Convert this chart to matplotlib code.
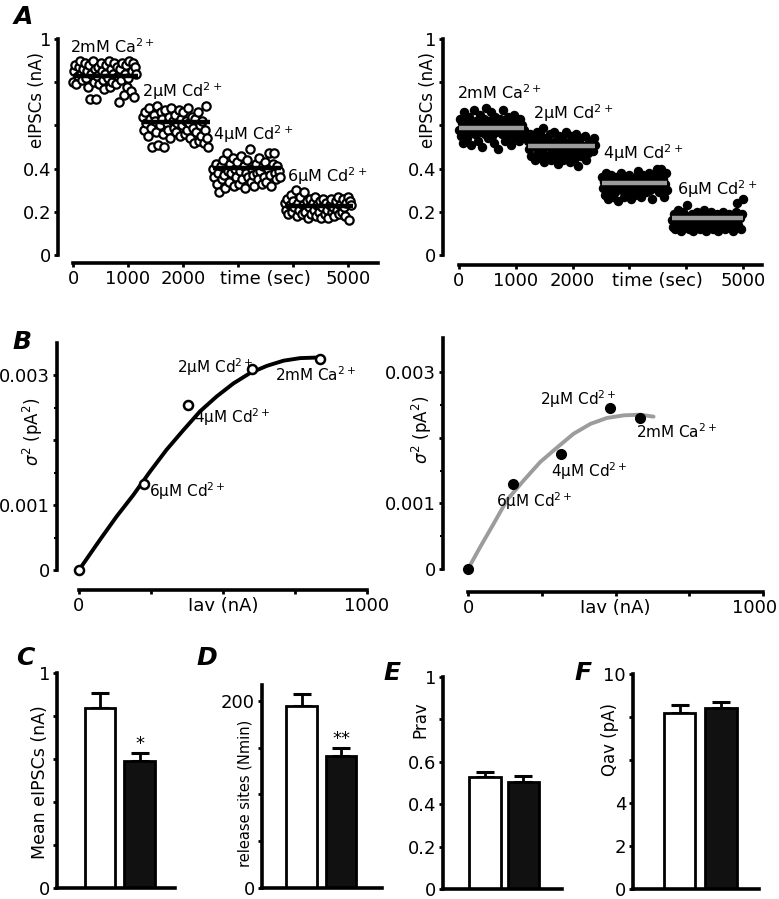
import numpy as np
import matplotlib
matplotlib.use("Agg")
import matplotlib.pyplot as plt
from matplotlib.transforms import ScaledTranslation

W, H = 779, 899

# ---------------- data ----------------
conds = ["2mM Ca$^{2+}$", "2μM Cd$^{2+}$", "4μM Cd$^{2+}$", "6μM Cd$^{2+}$"]

# A, left cell (open circles): time span of each condition (sec) and eIPSC amplitudes (nA)
aL_span = [(0, 1150), (1270, 2460), (2550, 3760), (3850, 5060)]
aL_mean = [0.83, 0.615, 0.405, 0.225]
aL_pts = [
    [0.80, 0.85, 0.88, 0.79, 0.83, 0.87, 0.90, 0.84, 0.81, 0.86, 0.89, 0.82, 0.85, 0.78,
     0.88, 0.72, 0.84, 0.90, 0.80, 0.86, 0.72, 0.83, 0.87, 0.79, 0.89, 0.85, 0.81, 0.77,
     0.84, 0.88, 0.82, 0.90, 0.78, 0.86, 0.80, 0.84, 0.89, 0.79, 0.87, 0.83, 0.71, 0.86,
     0.81, 0.89, 0.74, 0.84, 0.88, 0.78, 0.82, 0.90, 0.76, 0.85, 0.89, 0.73, 0.87, 0.84],
    [0.64, 0.58, 0.66, 0.61, 0.55, 0.68, 0.63, 0.59, 0.50, 0.65, 0.62, 0.57, 0.69, 0.51,
     0.60, 0.66, 0.63, 0.56, 0.50, 0.67, 0.61, 0.58, 0.64, 0.54, 0.68, 0.62, 0.59, 0.65,
     0.57, 0.61, 0.67, 0.55, 0.63, 0.60, 0.66, 0.56, 0.62, 0.58, 0.68, 0.61, 0.54, 0.64,
     0.59, 0.52, 0.63, 0.57, 0.66, 0.53, 0.60, 0.55, 0.62, 0.52, 0.58, 0.69, 0.54, 0.50],
    [0.40, 0.36, 0.42, 0.33, 0.38, 0.29, 0.41, 0.35, 0.44, 0.37, 0.31, 0.47, 0.39, 0.34,
     0.42, 0.38, 0.45, 0.32, 0.40, 0.36, 0.43, 0.33, 0.39, 0.46, 0.35, 0.41, 0.31, 0.38,
     0.44, 0.36, 0.49, 0.34, 0.40, 0.37, 0.32, 0.42, 0.38, 0.35, 0.45, 0.39, 0.33, 0.41,
     0.36, 0.43, 0.34, 0.40, 0.47, 0.37, 0.32, 0.42, 0.47, 0.38, 0.35, 0.41, 0.39, 0.36],
    [0.24, 0.21, 0.26, 0.19, 0.23, 0.28, 0.20, 0.25, 0.22, 0.30, 0.18, 0.24, 0.21, 0.27,
     0.19, 0.23, 0.29, 0.20, 0.25, 0.17, 0.22, 0.26, 0.19, 0.24, 0.21, 0.27, 0.18, 0.23,
     0.20, 0.25, 0.17, 0.22, 0.26, 0.19, 0.24, 0.21, 0.17, 0.23, 0.26, 0.20, 0.22, 0.18,
     0.25, 0.21, 0.27, 0.19, 0.23, 0.20, 0.26, 0.22, 0.18, 0.24, 0.27, 0.16, 0.25, 0.23],
]
aL_label_pos = [(-55, 0.935), (1255, 0.733), (2545, 0.532), (3890, 0.339)]

# A, right cell (filled circles)
aR_span = [(0, 1150), (1220, 2400), (2510, 3660), (3750, 5000)]
aR_mean = [0.588, 0.506, 0.335, 0.17]
aR_pts = [
    [0.58, 0.63, 0.55, 0.61, 0.52, 0.66, 0.59, 0.62, 0.54, 0.57, 0.64, 0.60, 0.51, 0.58,
     0.67, 0.56, 0.62, 0.59, 0.53, 0.61, 0.65, 0.57, 0.50, 0.60, 0.63, 0.56, 0.68, 0.59,
     0.54, 0.62, 0.58, 0.66, 0.55, 0.60, 0.52, 0.64, 0.57, 0.61, 0.49, 0.59, 0.63, 0.56,
     0.67, 0.58, 0.53, 0.61, 0.57, 0.64, 0.55, 0.60, 0.51, 0.62, 0.58, 0.65, 0.54, 0.59,
     0.56, 0.61, 0.53, 0.63, 0.57, 0.60, 0.55, 0.58],
    [0.53, 0.49, 0.56, 0.46, 0.51, 0.54, 0.44, 0.50, 0.57, 0.47, 0.52, 0.45, 0.55, 0.48,
     0.59, 0.43, 0.51, 0.54, 0.46, 0.50, 0.56, 0.44, 0.52, 0.48, 0.57, 0.45, 0.53, 0.49,
     0.42, 0.55, 0.47, 0.51, 0.54, 0.44, 0.50, 0.57, 0.46, 0.52, 0.48, 0.43, 0.55, 0.50,
     0.47, 0.53, 0.45, 0.56, 0.49, 0.41, 0.52, 0.54, 0.46, 0.50, 0.48, 0.55, 0.44, 0.51,
     0.47, 0.53, 0.49, 0.52, 0.50, 0.48, 0.54, 0.51],
    [0.36, 0.31, 0.34, 0.28, 0.38, 0.33, 0.26, 0.35, 0.30, 0.37, 0.32, 0.27, 0.34, 0.29,
     0.36, 0.33, 0.25, 0.35, 0.31, 0.38, 0.30, 0.34, 0.27, 0.36, 0.32, 0.29, 0.37, 0.33,
     0.26, 0.35, 0.31, 0.34, 0.28, 0.36, 0.32, 0.39, 0.30, 0.35, 0.27, 0.33, 0.37, 0.31,
     0.34, 0.29, 0.36, 0.32, 0.38, 0.30, 0.35, 0.26, 0.33, 0.37, 0.31, 0.40, 0.34, 0.29,
     0.36, 0.40, 0.32, 0.35, 0.27, 0.33, 0.38, 0.30],
    [0.16, 0.13, 0.19, 0.12, 0.17, 0.21, 0.14, 0.18, 0.11, 0.16, 0.20, 0.13, 0.17, 0.23,
     0.15, 0.12, 0.18, 0.14, 0.19, 0.11, 0.16, 0.13, 0.20, 0.15, 0.17, 0.12, 0.18, 0.14,
     0.21, 0.16, 0.11, 0.19, 0.13, 0.17, 0.15, 0.20, 0.12, 0.16, 0.18, 0.14, 0.19, 0.11,
     0.17, 0.13, 0.16, 0.20, 0.15, 0.12, 0.18, 0.14, 0.17, 0.19, 0.13, 0.16, 0.11, 0.18,
     0.15, 0.20, 0.24, 0.14, 0.17, 0.12, 0.19, 0.26],
]
aR_label_pos = [(-35, 0.72), (1297, 0.63), (2540, 0.443), (3843, 0.278)]

# B: variance-mean points (Iav nA, sigma^2 pA^2), order = conds, plus origin
bL_iav = [0, 837, 600, 377, 226]
bL_var = [0, 0.00324, 0.00309, 0.00254, 0.00133]
bL_fit_x = [0, 72, 130, 188, 246, 304, 362, 420, 478, 536, 594, 652, 710, 768, 838]
bL_fit_y = [0, 0.00046, 0.00082, 0.00115, 0.00151, 0.00185, 0.00215, 0.00244, 0.00267,
            0.00287, 0.00303, 0.00314, 0.00322, 0.00326, 0.00327]
bL_label_pos = [(681, 0.00291), (339, 0.003035), (399, 0.002266), (243, 0.00112)]

bR_iav = [0, 583, 481, 315, 154]
bR_var = [0, 0.00230, 0.00245, 0.00175, 0.00129]
bR_fit_x = [0, 42, 87, 132, 189, 245, 302, 358, 415, 471, 528, 584, 629]
bR_fit_y = [0, 0.00034, 0.00069, 0.00105, 0.00135, 0.00163, 0.00185, 0.00206, 0.00221,
            0.0023, 0.00234, 0.00235, 0.00232]
bR_label_pos = [(569, 0.0020), (244, 0.0025), (280, 0.0014), (95, 0.00095)]

# C-F: control (white) vs Cd (black), mean and SEM
c_vals, c_err = [0.837, 0.59], [0.071, 0.039]
d_vals, d_err = [194, 141], [13, 9]
e_vals, e_err = [0.528, 0.507], [0.025, 0.028]
f_vals, f_err = [8.2, 8.4], [0.35, 0.3]

# ---------------- figure ----------------
plt.rcParams["font.family"] = ["DejaVu Sans"]
plt.rcParams["mathtext.fontset"] = "dejavusans"
fig = plt.figure(figsize=(W / 100, H / 100), dpi=100)
GRAY = "#9c9c9c"


def add_panel(xa, xb, xlim, ya, yb, ylim):
    # xa/xb and ya/yb are (value, pixel) pairs
    sx = (xb[1] - xa[1]) / (xb[0] - xa[0])
    sy = (yb[1] - ya[1]) / (yb[0] - ya[0])
    left = xa[1] + (xlim[0] - xa[0]) * sx
    right = xa[1] + (xlim[1] - xa[0]) * sx
    bottom = ya[1] + (ylim[0] - ya[0]) * sy
    top = ya[1] + (ylim[1] - ya[0]) * sy
    ax = fig.add_axes([left / W, 1 - bottom / H, (right - left) / W, (bottom - top) / H])
    ax.set_xlim(xlim)
    ax.set_ylim(ylim)
    ax.patch.set_alpha(0)
    for s in ["top", "right"]:
        ax.spines[s].set_visible(False)
    for s in ["left", "bottom"]:
        ax.spines[s].set_linewidth(2.6)
    ax.tick_params(width=2, length=3, labelsize=13, pad=2)
    return ax


def ftext(x, y, s, **kw):
    fig.text(x / W, 1 - y / H, s, **kw)


def panel_letter(x, y, s):
    ftext(x, y, s, fontsize=18, fontweight="bold", style="italic", ha="left", va="top")


# ---- A ----
def draw_a(ax, spans, pts, means, labpos, filled):
    for (t0, t1), ys, m, (lx, ly), lab in zip(spans, pts, means, labpos, conds):
        xs = np.linspace(t0, t1, len(ys))
        if filled:
            ax.plot(xs, ys, "o", ms=5.8, mfc="black", mec="black", clip_on=False)
            ax.plot([t0, t1], [m, m], color=GRAY, lw=3.2, solid_capstyle="butt")
        else:
            ax.plot(xs, ys, "o", ms=6, mfc="white", mec="black", mew=1.6, clip_on=False)
            ax.plot([t0, t1 + 30], [m, m], color="black", lw=3.2, solid_capstyle="butt")
        ax.text(lx, ly, lab, fontsize=11.5, ha="left", va="baseline")
    ax.spines["left"].set_bounds(0, 1)
    ax.spines["bottom"].set_bounds(0, ax.get_xlim()[1])
    ax.set_yticks([0, 0.2, 0.4, 0.6, 0.8, 1.0])
    ax.set_yticklabels(["0", "0.2", "0.4", "", "", "1"])
    ax.set_xticks([0, 1000, 2000, 3000, 4000, 5000])
    ax.set_xticklabels(["0", "1000", "2000", "", "", "5000"])
    ax.annotate("time (sec)", xy=(3500, 0), xycoords=("data", "axes fraction"),
                xytext=(0, -5), textcoords="offset points", ha="center", va="top",
                fontsize=13)


axA1 = add_panel((0, 73), (5000, 348), (-273, 5545), (0, 255), (1, 39), (-0.037, 1.0))
draw_a(axA1, aL_span, aL_pts, aL_mean, aL_label_pos, filled=False)
axA2 = add_panel((0, 459), (5000, 743), (-282, 5335), (0, 255), (1, 39), (-0.046, 1.0))
draw_a(axA2, aR_span, aR_pts, aR_mean, aR_label_pos, filled=True)
ftext(37, 100, "eIPSCs (nA)", rotation=90, fontsize=12, ha="center", va="center")
ftext(428, 100, "eIPSCs (nA)", rotation=90, fontsize=12, ha="center", va="center")
panel_letter(14, 5, "A")


# ---- B ----
def draw_b(ax, iav, var, fx, fy, labpos, filled, color):
    ax.plot(fx, fy, color=color, lw=2.8, solid_capstyle="round")
    if filled:
        ax.plot(iav, var, "o", ms=7, mfc="black", mec="black", clip_on=False, zorder=3)
    else:
        ax.plot(iav, var, "o", ms=6.5, mfc="white", mec="black", mew=1.8, clip_on=False,
                zorder=3)
    for (lx, ly), lab in zip(labpos, conds):
        ax.text(lx, ly, lab, fontsize=11, ha="left", va="baseline")
    ax.spines["left"].set_bounds(0, ax.get_ylim()[1])
    ax.spines["bottom"].set_bounds(0, 1000)
    ax.set_yticks([0, 0.001, 0.002, 0.003])
    ax.set_yticklabels(["0", "0.001", "", "0.003"])
    ax.set_yticks([0.0005, 0.0015, 0.0025], minor=True)
    ax.set_xticks([0, 250, 500, 750, 1000])
    ax.set_xticklabels(["0", "", "Iav (nA)", "", "1000"])
    ax.tick_params(which="minor", width=1.5, length=2.5)


axB1 = add_panel((0, 79), (1000, 367), (-76, 1000), (0, 570), (0.003, 375),
                 (-0.000308, 0.0035))
draw_b(axB1, bL_iav, bL_var, bL_fit_x, bL_fit_y, bL_label_pos, False, "black")
axB2 = add_panel((0, 468), (1000, 763), (-85, 1000), (0, 569), (0.003, 372),
                 (-0.00035, 0.00352))
draw_b(axB2, bR_iav, bR_var, bR_fit_x, bR_fit_y, bR_label_pos, True, GRAY)
# keep the last tick label of the right panel inside the figure
last = axB2.get_xticklabels()[-1]
last.set_transform(last.get_transform() + ScaledTranslation(-8 / 100, 0, fig.dpi_scale_trans))
ftext(33, 432, "$\\sigma^2$ (pA$^2$)", rotation=90, fontsize=12, ha="center", va="center")
ftext(422, 430, "$\\sigma^2$ (pA$^2$)", rotation=90, fontsize=12, ha="center", va="center")
panel_letter(12, 330, "B")


# ---- C-F ----
def draw_bars(ax, vals, errs, width, ticks, ticklabels, star=None):
    x = [1, 2]
    ax.bar(x, vals, width=width, color=["white", "#111111"], edgecolor="black",
           linewidth=2, zorder=2)
    ax.errorbar(x, vals, yerr=[[0, 0], errs], fmt="none", ecolor="black",
                elinewidth=2, capsize=6.5, capthick=2.2, zorder=1)
    ax.spines["left"].set_bounds(0, ax.get_ylim()[1])
    ax.set_xticks([])
    ax.set_yticks(ticks)
    ax.set_yticklabels(ticklabels)
    if star:
        ax.text(2, vals[1] + errs[1], star, ha="center", va="bottom", fontsize=13)


axC = add_panel((1, 100), (2, 139.5), (-0.089, 2.9), (0, 888), (1, 673), (0, 1))
draw_bars(axC, c_vals, c_err, 0.78, [0, 0.2, 0.4, 0.6, 0.8, 1.0],
          ["0", "", "", "", "", "1"], star="*")
axD = add_panel((1, 301.5), (2, 341), (0.0, 3.04), (0, 888), (200, 700.7), (0, 217))
draw_bars(axD, d_vals, d_err, 0.78, [0, 50, 100, 150, 200],
          ["0", "", "", "", "200"], star="**")
axE = add_panel((1, 485), (2, 523.5), (-0.09, 3.0), (0, 889), (1, 677), (0, 1))
draw_bars(axE, e_vals, e_err, 0.82, [0, 0.2, 0.4, 0.6, 0.8, 1.0],
          ["0", "0.2", "0.4", "0.6", "", "1"])
axF = add_panel((1, 679.5), (2, 721), (-0.12, 2.92), (0, 889), (10, 674), (0, 10))
draw_bars(axF, f_vals, f_err, 0.75, [0, 2, 4, 6, 8, 10],
          ["0", "2", "4", "", "", "10"])

ftext(40, 782, "Mean eIPSCs (nA)", rotation=90, fontsize=12.5, ha="center", va="center")
ftext(245, 793, "release sites (Nmin)", rotation=90, fontsize=10.5, ha="center", va="center")
ftext(420, 720, "Prav", rotation=90, fontsize=12, ha="center", va="center")
ftext(610, 739, "Qav (pA)", rotation=90, fontsize=12, ha="center", va="center")
panel_letter(16, 646, "C")
panel_letter(196, 646, "D")
panel_letter(383, 661, "E")
panel_letter(574, 661, "F")

fig.savefig("out.png", dpi=100)
